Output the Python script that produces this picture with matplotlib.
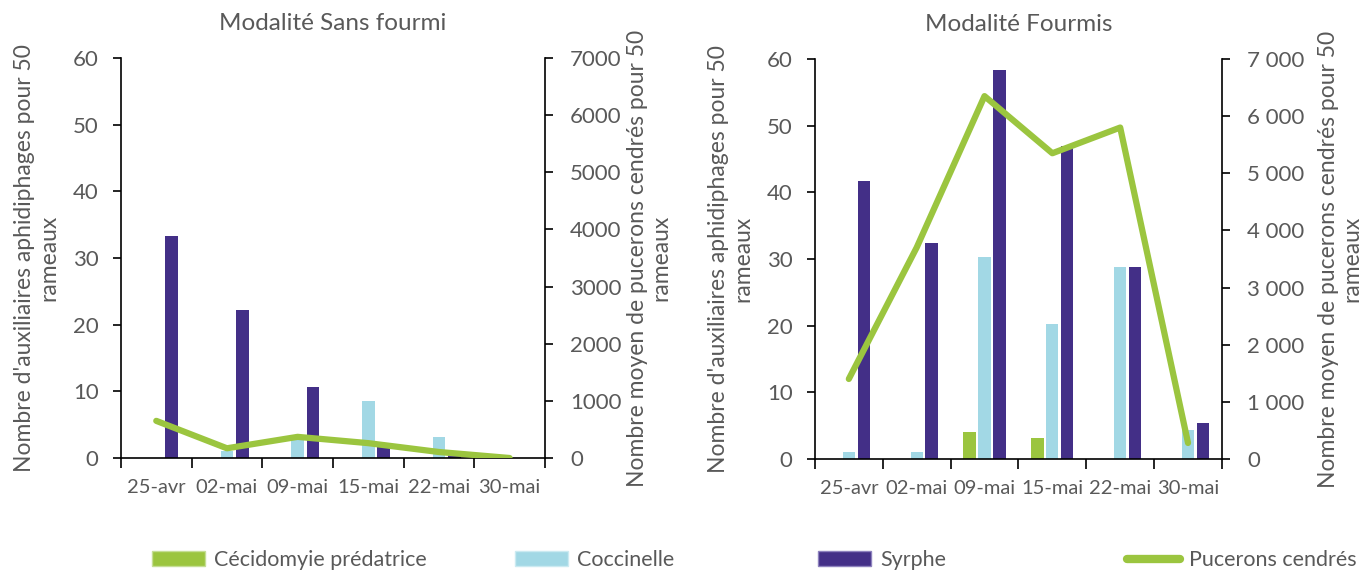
import matplotlib.pyplot as plt
import numpy as np
from matplotlib.lines import Line2D
from matplotlib.patches import Patch
from matplotlib.ticker import FuncFormatter

plt.rcParams["font.family"] = ["Lato", "DejaVu Sans"]

dates = ["25-avr", "02-mai", "09-mai", "15-mai", "22-mai", "30-mai"]

# Modalité Sans fourmi
sf_cecido = [0, 0, 0, 0, 0, 0]
sf_cocci = [0, 1.1, 3.3, 8.5, 3.2, 0]
sf_syrphe = [33.3, 22.2, 10.6, 2.0, 0.5, 0]
sf_pucerons = [650, 170, 370, 260, 105, 0]

# Modalité Fourmis
f_cecido = [0, 0, 4.1, 3.1, 0, 0]
f_cocci = [1.1, 1.1, 30.3, 20.3, 28.8, 4.3]
f_syrphe = [41.7, 32.4, 58.4, 46.9, 28.8, 5.4]
f_pucerons = [1400, 3700, 6350, 5350, 5800, 280]

GREEN = "#9BC53F"
LIGHT_BLUE = "#A2D8E5"
PURPLE = "#432F87"
TEXT = "#595959"
TICK_FS = 16
LABEL_FS = 16.5


def panel(rect, title, cecido, cocci, syrphe, pucerons, sep, pads):
    ax = fig.add_axes(rect)
    x = np.arange(len(dates))
    w, off = 0.18, 0.22
    ax.bar(x - off, cecido, w, color=GREEN, zorder=2)
    ax.bar(x, cocci, w, color=LIGHT_BLUE, zorder=2)
    ax.bar(x + off, syrphe, w, color=PURPLE, zorder=2)
    ax.set_xlim(-0.5, len(dates) - 0.5)
    ax.set_ylim(0, 60)
    ax.set_yticks(range(0, 61, 10))
    ax.set_xticks(x, dates)
    ax.set_xticks(np.arange(-0.5, len(dates)), minor=True)
    ax.tick_params(axis="x", which="major", length=0, pad=15, labelsize=14.5)
    ax.tick_params(axis="x", which="minor", length=7, width=1.2, direction="out")
    ax.tick_params(axis="y", length=6, width=1.2, pad=10, labelsize=TICK_FS)
    ax.tick_params(labelcolor=TEXT)
    ax.spines["top"].set_visible(False)
    ax.spines["right"].set_visible(False)
    ax.spines["left"].set_linewidth(1.2)
    ax.spines["bottom"].set_linewidth(1.2)
    ax.set_ylabel("Nombre d'auxiliaires aphidiphages pour 50\nrameaux",
                  fontsize=LABEL_FS, color=TEXT, labelpad=pads[0], linespacing=1.15)
    ax.set_title(title, fontsize=17.5, color=TEXT, pad=20)

    ax2 = ax.twinx()
    ax2.plot(x, pucerons, color=GREEN, lw=4.5, solid_capstyle="round", zorder=3)
    ax2.set_ylim(0, 7000)
    ax2.set_yticks(range(0, 7001, 1000))
    if sep:
        ax2.yaxis.set_major_formatter(FuncFormatter(lambda v, p: f"{int(v):,}".replace(",", " ")))
    ax2.tick_params(axis="y", length=6, width=1.2, pad=12, labelsize=TICK_FS, labelcolor=TEXT)
    ax2.spines["top"].set_visible(False)
    ax2.spines["left"].set_visible(False)
    ax2.spines["bottom"].set_visible(False)
    ax2.spines["right"].set_linewidth(1.2)
    ax2.set_ylabel("Nombre moyen de pucerons cendrés pour 50\nrameaux",
                   fontsize=LABEL_FS, color=TEXT, labelpad=pads[1], linespacing=1.15)
    return ax


fig = plt.figure(figsize=(13.65, 5.72), dpi=100)
panel([0.0886, 0.1993, 0.3106, 0.6993], "Modalité Sans fourmi",
      sf_cecido, sf_cocci, sf_syrphe, sf_pucerons, sep=False, pads=(10, 4))
panel([0.597, 0.1976, 0.2982, 0.6993], "Modalité Fourmis",
      f_cecido, f_cocci, f_syrphe, f_pucerons, sep=True, pads=(10, 10))

# legend entries placed one by one along the bottom
entries = [
    (Patch(facecolor=GREEN, edgecolor="#C5DE95", label="Cécidomyie prédatrice"), 152),
    (Patch(facecolor=LIGHT_BLUE, edgecolor="#CBEAF1", label="Coccinelle"), 515),
    (Patch(facecolor=PURPLE, edgecolor="#8E82BE", label="Syrphe"), 818),
    (Line2D([], [], color=GREEN, lw=6, solid_capstyle="round", label="Pucerons cendrés"), 1127),
]
for handle, xpix in entries:
    leg = fig.legend(handles=[handle], loc="center left",
                     bbox_to_anchor=(xpix / 1365, 12 / 572), frameon=False,
                     fontsize=15.5, handlelength=2.45, handleheight=0.65,
                     handletextpad=0.45, borderpad=0, borderaxespad=0)
    for t in leg.get_texts():
        t.set_color(TEXT)

fig.savefig("out.png", dpi=100, facecolor="white")
